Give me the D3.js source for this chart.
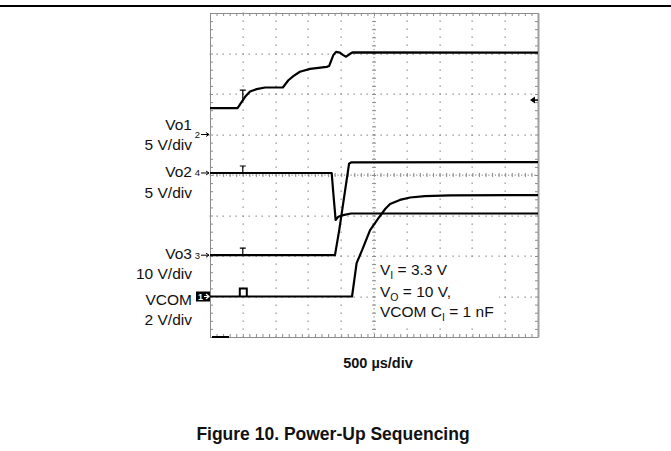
<!DOCTYPE html>
<html>
<head>
<meta charset="utf-8">
<script src="https://cdn.jsdelivr.net/npm/d3@7"></script>
<style>
  html, body { margin: 0; padding: 0; background: #fff; }
  svg { display: block; }
  text { font-family: "Liberation Sans", Arial, Helvetica, sans-serif; fill: #111; }
</style>
</head>
<body>
<svg id="chart" width="671" height="451"></svg>
<script>
// ---------------- data ----------------
// time in microseconds (500 us/div, 10 divisions), voltages in volts
const vo1Time  = [0, 420, 535, 610, 710, 840, 1110, 1195, 1270, 1370, 1525, 1780, 1815, 1880, 1920, 1980, 2030, 2075, 2125, 2175, 5000];
const vo1Volts = [3.25, 3.25, 4.65, 5.3, 5.6, 5.8, 5.8, 6.7, 7.2, 7.75, 8.1, 8.35, 8.45, 9.8, 10.2, 10.1, 9.8, 9.6, 9.9, 10.15, 10.1];

const vo2Time  = [0, 1855, 1880, 1915, 1935, 1955, 2030, 2150, 5000];
const vo2Volts = [0, 0, -2.5, -5.8, -5.6, -5.4, -5.2, -5.0, -5.0];

const vo3Time  = [0, 1905, 1970, 2120, 2150, 5000];
const vo3Volts = [0, 0, 6.2, 22.6, 22.9, 23.0];

const vcomTime  = [0, 2165, 2235, 2320, 2440, 2560, 2670, 2745, 2895, 3050, 3275, 3660, 5000];
const vcomVolts = [0, 0, 1.65, 2.3, 3.28, 3.83, 4.32, 4.57, 4.77, 4.89, 4.96, 4.99, 5.01];

// channel names, scale labels, marker numbers, reference level (div from centre), volts/div
const channelNames  = ["Vo1", "Vo2", "Vo3", "VCOM"];
const channelScales = ["5 V/div", "5 V/div", "10 V/div", "2 V/div"];
const channelMarks  = ["2", "4", "3", "1"];
const channelRefDiv = [1.0, 0.05, -1.98, -3.0];
const channelVDiv   = [5, 5, 10, 2];

const timeLabel = "500 µs/div";
const titleText = "Figure 10. Power-Up Sequencing";
const triggerTime = 500;     // trigger marker position (us)
const triggerLevelDiv = 1.85; // right-hand trigger level arrow (div)

// ---------------- layout ----------------
const svg = d3.select("#chart");
const L = 210, R = 538, T = 13, B = 337;
const x = d3.scaleLinear().domain([0, 5000]).range([L, R]);
const y = d3.scaleLinear().domain([-4, 4]).range([B, T]);
const gridCol = "#8c8c8c";

// page rule at top
svg.append("line").attr("x1", 0).attr("x2", 671).attr("y1", 6).attr("y2", 6)
  .attr("stroke", "#000").attr("stroke-width", 2);

const g = svg.append("g");

// dotted graticule
const minorT = d3.range(0, 5000.1, 100);
const minorD = d3.range(-4, 4.01, 0.2);
const dots = [];
d3.range(1, 10).filter(i => i !== 5).forEach(i => {
  minorD.forEach(d => dots.push([x(i * 500), y(d)]));
});
d3.range(-3, 4).filter(j => j !== 0).forEach(j => {
  minorT.forEach(t => dots.push([x(t), y(j)]));
});
g.selectAll("rect.dot").data(dots).join("rect")
  .attr("class", "dot")
  .attr("x", d => Math.round(d[0]) - 0.5).attr("y", d => Math.round(d[1]) - 0.5)
  .attr("width", 1.3).attr("height", 1.3).attr("fill", gridCol);

// centre cross-hair with finer dots and ticks
const fineT = d3.range(0, 5000.1, 50);
const fineD = d3.range(-4, 4.01, 0.1);
g.selectAll("rect.fh").data(fineT).join("rect").attr("class", "fh")
  .attr("x", t => x(t) - 0.5).attr("y", y(0) - 0.5).attr("width", 1.2).attr("height", 1.2).attr("fill", gridCol);
g.selectAll("rect.fv").data(fineD).join("rect").attr("class", "fv")
  .attr("x", x(2500) - 0.5).attr("y", d => y(d) - 0.5).attr("width", 1.2).attr("height", 1.2).attr("fill", gridCol);

const styleAxis = sel => {
  sel.selectAll("path").attr("stroke", gridCol);
  sel.selectAll("line").attr("stroke", gridCol);
  sel.selectAll("text").remove();
};
// centre horizontal ticks
g.append("g").attr("transform", `translate(0,${y(0) + 2})`)
  .call(d3.axisTop(x).tickValues(minorT).tickSize(4).tickFormat("").tickSizeOuter(0))
  .call(styleAxis).call(s => s.select("path").remove());
// centre vertical ticks
g.append("g").attr("transform", `translate(${x(2500) + 2},0)`)
  .call(d3.axisLeft(y).tickValues(minorD).tickSize(4).tickFormat("").tickSizeOuter(0))
  .call(styleAxis).call(s => s.select("path").remove());

// border ticks
g.append("g").attr("transform", `translate(0,${T})`)
  .call(d3.axisBottom(x).tickValues(minorT).tickSize(3).tickFormat("").tickSizeOuter(0)).call(styleAxis);
g.append("g").attr("transform", `translate(0,${B})`)
  .call(d3.axisTop(x).tickValues(minorT).tickSize(3).tickFormat("").tickSizeOuter(0)).call(styleAxis);
g.append("g").attr("transform", `translate(${L},0)`)
  .call(d3.axisRight(y).tickValues(minorD).tickSize(3).tickFormat("").tickSizeOuter(0)).call(styleAxis);
g.append("g").attr("transform", `translate(${R},0)`)
  .call(d3.axisLeft(y).tickValues(minorD).tickSize(3).tickFormat("").tickSizeOuter(0)).call(styleAxis)
  .call(s => s.select("path").attr("stroke-width", 2).attr("stroke", "#a0a0a0"));

// white box behind the annotation (hides graticule like the original)
g.append("rect").attr("x", 377).attr("y", 259).attr("width", 122).attr("height", 64).attr("fill", "#fff");

// ---------------- traces ----------------
const series = [
  [vo1Time, vo1Volts],
  [vo2Time, vo2Volts],
  [vo3Time, vo3Volts],
  [vcomTime, vcomVolts]
];
series.forEach((s, k) => {
  const pts = s[0].map((t, i) => [t, channelRefDiv[k] + s[1][i] / channelVDiv[k]]);
  const line = d3.line().x(d => x(d[0])).y(d => y(d[1]));
  g.append("path").attr("d", line(pts)).attr("fill", "none")
    .attr("stroke", "#000").attr("stroke-width", 2.2).attr("stroke-linejoin", "round");
});

// trigger "T" markers on each trace
const tx = x(triggerTime);
[0, 1, 2].forEach(k => {
  const base = y(channelRefDiv[k] + (k === 0 ? 3.25 / 5 : 0));
  const top = k === 0 ? base - 18 : base - 7;
  g.append("path").attr("d", `M${tx - 3},${top}H${tx + 3}M${tx},${top}V${k === 0 ? top + 10 : base}`)
    .attr("stroke", "#000").attr("stroke-width", 1.2).attr("fill", "none");
});
{
  const b = y(channelRefDiv[3]);
  g.append("path").attr("d", `M${tx - 3},${b}V${b - 8}H${tx + 4}V${b}`)
    .attr("stroke", "#000").attr("stroke-width", 2).attr("fill", "none");
}

// trigger level arrow (right edge)
{
  const yy = y(triggerLevelDiv);
  g.append("path").attr("d", `M${R - 8},${yy}L${R - 3},${yy - 3.5}L${R - 3},${yy + 3.5}Z`).attr("fill", "#000");
  g.append("line").attr("x1", R - 4).attr("x2", R).attr("y1", yy).attr("y2", yy).attr("stroke", "#000").attr("stroke-width", 1.5);
}
// horizontal position marker bottom-left
g.append("line").attr("x1", L + 2).attr("x2", L + 19).attr("y1", B).attr("y2", B)
  .attr("stroke", "#000").attr("stroke-width", 2);

// ---------------- channel markers & labels ----------------
channelNames.forEach((name, k) => {
  const yy = y(channelRefDiv[k]);
  if (channelMarks[k] === "1") {
    svg.append("rect").attr("x", 196).attr("y", yy - 5).attr("width", 14).attr("height", 10).attr("fill", "#000");
    svg.append("text").attr("x", 200.5).attr("y", yy + 3.5).attr("text-anchor", "middle")
      .style("font-size", "9px").style("font-weight", "bold").style("fill", "#fff").text("1");
    svg.append("path").attr("d", `M204,${yy}H208M206,${yy - 2.5}L209,${yy}L206,${yy + 2.5}`)
      .attr("stroke", "#fff").attr("stroke-width", 1.2).attr("fill", "none");
  } else {
    svg.append("text").attr("x", 200).attr("y", yy + 3.5).attr("text-anchor", "end")
      .style("font-size", "9.5px").text(channelMarks[k]);
    svg.append("path").attr("d", `M201,${yy}H209M206,${yy - 2}L209,${yy}L206,${yy + 2}`)
      .attr("stroke", "#000").attr("stroke-width", 1).attr("fill", "none");
  }
});

const labelCentres = [[124, 144], [171, 192], [253, 273], [299, 319]];
channelNames.forEach((name, k) => {
  svg.append("text").attr("x", 192).attr("y", labelCentres[k][0] + 5.5).attr("text-anchor", "end")
    .style("font-size", "15.5px").text(name);
  svg.append("text").attr("x", 192).attr("y", labelCentres[k][1] + 5.5).attr("text-anchor", "end")
    .style("font-size", "15.5px").text(channelScales[k]);
});

// ---------------- annotation ----------------
const ann = svg.append("g").style("font-size", "15.5px");
const a1 = ann.append("text").attr("x", 380).attr("y", 274.5);
a1.append("tspan").text("V");
a1.append("tspan").attr("dy", 4).style("font-size", "10.5px").text("I");
a1.append("tspan").attr("dy", -4).text(" = 3.3 V");
const a2 = ann.append("text").attr("x", 380).attr("y", 297);
a2.append("tspan").text("V");
a2.append("tspan").attr("dy", 4).style("font-size", "10.5px").text("O");
a2.append("tspan").attr("dy", -4).text(" = 10 V,");
const a3 = ann.append("text").attr("x", 380).attr("y", 317);
a3.append("tspan").text("VCOM C");
a3.append("tspan").attr("dy", 4).style("font-size", "10.5px").text("I");
a3.append("tspan").attr("dy", -4).text(" = 1 nF");

// ---------------- axis caption & title ----------------
svg.append("text").attr("x", 378).attr("y", 367.5).attr("text-anchor", "middle")
  .style("font-size", "14.5px").style("font-weight", "bold").text(timeLabel);
svg.append("text").attr("x", 333).attr("y", 440).attr("text-anchor", "middle")
  .style("font-size", "17.5px").style("font-weight", "bold").text(titleText);
</script>
</body>
</html>
